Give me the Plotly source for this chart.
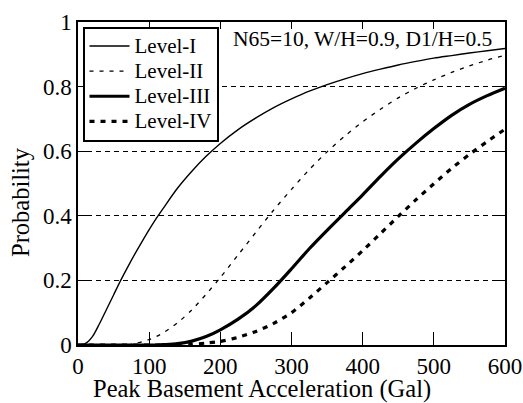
import plotly.graph_objects as go

# Peak basement acceleration (Gal)
pga = [0, 10, 20, 30, 40, 50, 60, 70, 80, 90, 100, 110, 120, 140, 160, 180, 200,
       225, 250, 275, 300, 325, 350, 375, 400, 425, 450, 475, 500, 525, 550, 575, 600]

level_1 = [0, 0.004, 0.025, 0.065, 0.11, 0.155, 0.2, 0.242, 0.282, 0.32, 0.357, 0.392, 0.424,
           0.486, 0.538, 0.584, 0.624, 0.667, 0.703, 0.735, 0.762, 0.786, 0.806, 0.824,
           0.840, 0.854, 0.867, 0.878, 0.888, 0.896, 0.904, 0.911, 0.918]
level_2 = [0, 0, 0, 0, 0, 0, 0, 0, 0.005, 0.010, 0.017, 0.026, 0.038, 0.069, 0.109,
           0.157, 0.209, 0.279, 0.349, 0.418, 0.482, 0.543, 0.598, 0.647, 0.691, 0.730,
           0.765, 0.795, 0.821, 0.844, 0.864, 0.882, 0.897]
level_3 = [0, 0, 0, 0, 0, 0, 0, 0, 0, 0, 0, 0, 0.001, 0.004, 0.012, 0.026, 0.047,
           0.08, 0.122, 0.176, 0.236, 0.298, 0.355, 0.41, 0.465, 0.522, 0.576, 0.625,
           0.670, 0.711, 0.745, 0.772, 0.795]
level_4 = [0, 0, 0, 0, 0, 0, 0, 0, 0, 0, 0, 0, 0, 0, 0.002, 0.006, 0.011, 0.024,
           0.042, 0.067, 0.100, 0.145, 0.193, 0.242, 0.292, 0.345, 0.398, 0.450, 0.499,
           0.547, 0.590, 0.630, 0.668]

names = ["Level-I", "Level-II", "Level-III", "Level-IV"]
x_ticks = [0, 100, 200, 300, 400, 500, 600]
y_ticks = [0, 0.2, 0.4, 0.6, 0.8, 1]

FONT = "Liberation Serif, Times New Roman, serif"
series = [level_1, level_2, level_3, level_4]
styles = [dict(width=1.4, dash="solid"),
          dict(width=1.3, dash="4px,6px"),
          dict(width=3.2, dash="solid"),
          dict(width=3.2, dash="5px,6px")]

fig = go.Figure()
for name, ys, st in zip(names, series, styles):
    fig.add_trace(go.Scatter(x=pga, y=ys, mode="lines",
                             name='<span style="font-size:21px">' + name + '</span>',
                             line=dict(color="black", width=st["width"], dash=st["dash"],
                                       shape="spline", smoothing=0.8)))

W, H = 523, 403
ml, mr, mt, mb = 78, 18, 22, 58
pw, ph = W - ml - mr, H - mt - mb

def px_x(p):
    return (p - ml) / pw

def px_y(p):
    return (H - mb - p) / ph

common = dict(automargin=False, tickcolor="black", tickwidth=1.3, zeroline=False)

fig.update_layout(
    width=W, height=H,
    margin=dict(l=ml, r=mr, t=mt, b=mb, pad=0, autoexpand=False),
    paper_bgcolor="white", plot_bgcolor="white",
    font=dict(family=FONT, color="black", size=22),
    showlegend=True,
    legend=dict(x=px_x(82.5), y=px_y(26.5), xanchor="left", yanchor="top",
                bgcolor="white", bordercolor="black", borderwidth=2,
                font=dict(family=FONT, size=17, color="black"),
                tracegroupgap=0, itemwidth=40),
    xaxis=dict(range=[0, 600], tickvals=x_ticks, ticks="inside", ticklen=13,
               showline=True, linecolor="black", linewidth=1.5, mirror=True,
               showgrid=False, tickfont=dict(family=FONT, size=23, color="black"),
               **common),
    yaxis=dict(range=[0, 1], tickvals=y_ticks, ticks="inside", ticklen=12,
               showline=True, linecolor="black", linewidth=1.5, mirror=True,
               showgrid=True, gridcolor="black", gridwidth=1, griddash="5px,4px",
               tickfont=dict(family=FONT, size=23, color="black"), **common),
    xaxis2=dict(range=[0, 600], overlaying="x", side="top", tickvals=x_ticks[1:-1],
                ticks="inside", ticklen=7, showticklabels=False, showgrid=False,
                showline=False, **common),
    yaxis2=dict(range=[0, 1], overlaying="y", side="right", tickvals=y_ticks[1:-1],
                ticks="inside", ticklen=13, showticklabels=False, showgrid=False,
                showline=False, **common),
    annotations=[
        dict(text="N65=10, W/H=0.9, D1/H=0.5", xref="paper", yref="paper",
             x=px_x(494), y=px_y(39), xanchor="right", yanchor="middle",
             showarrow=False, font=dict(family=FONT, size=21.5, color="black")),
        dict(text="Peak Basement Acceleration (Gal)", xref="paper", yref="paper",
             x=px_x(261.5), y=px_y(389), xanchor="center", yanchor="middle",
             showarrow=False, font=dict(family=FONT, size=24.5, color="black")),
        dict(text="Probability", xref="paper", yref="paper", textangle=-90,
             x=px_x(20), y=px_y(202), xanchor="center", yanchor="middle",
             showarrow=False, font=dict(family=FONT, size=24.5, color="black")),
    ],
)
# invisible helper trace so the mirrored tick axes are rendered
fig.add_trace(go.Scatter(x=[None], y=[None], xaxis="x2", yaxis="y2",
                         showlegend=False, hoverinfo="skip"))

fig.write_html("out.html")
